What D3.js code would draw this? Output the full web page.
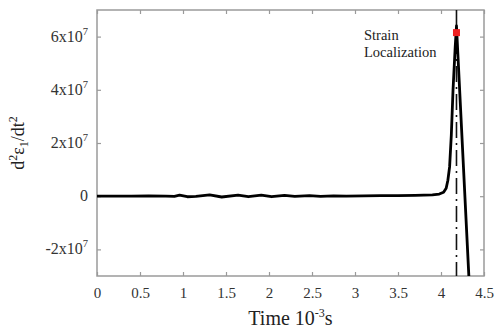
<!DOCTYPE html>
<html>
<head>
<meta charset="utf-8">
<script src="https://cdn.jsdelivr.net/npm/d3@7"></script>
<style>
  html, body { margin: 0; padding: 0; background: #fff; }
  svg { display: block; font-family: "Liberation Serif", "DejaVu Serif", serif; }
</style>
</head>
<body>
<svg id="chart" width="496" height="330"></svg>
<script>
// ---- data (time in 10^-3 s, value in units of 10^7) ----
const times = [0, 0.2, 0.4, 0.6, 0.8, 0.9, 0.96, 1.05, 1.15, 1.31, 1.45, 1.64, 1.76, 1.91, 2.03, 2.18, 2.3, 2.47, 2.6, 2.75, 2.9, 3.1, 3.3, 3.5, 3.7, 3.9, 3.98, 4.03, 4.06, 4.08, 4.1, 4.12, 4.14, 4.165, 4.18, 4.33];
const values = [0, 0, 0, 0.01, 0, -0.01, 0.04, -0.02, -0.01, 0.05, -0.03, 0.04, -0.02, 0.04, -0.02, 0.03, -0.01, 0.02, -0.01, 0.01, 0.0, 0.01, 0.02, 0.02, 0.03, 0.05, 0.08, 0.15, 0.3, 0.6, 1.1, 2.3, 4.0, 5.6, 6.4, -3.4];
const xTicks = [0, 0.5, 1, 1.5, 2, 2.5, 3, 3.5, 4, 4.5];
const xTickLabels = ["0", "0.5", "1", "1.5", "2", "2.5", "3", "3.5", "4", "4.5"];
const yTicks = [-2, 0, 2, 4, 6];
const yTickMantissa = ["-2x10", "0", "2x10", "4x10", "6x10"];
const yTickExponent = ["7", "", "7", "7", "7"];
const localizationTime = [4.18];
const localizationValue = [6.15];
const annotationLines = ["Strain", "Localization"];

const svg = d3.select("#chart");
const mL = 97, mR = 484, mT = 10, mB = 276;
const x = d3.scaleLinear().domain([0, 4.5]).range([mL, mR]);
const y = d3.scaleLinear().domain([-3, 7]).range([mB, mT]);

const axisColor = "#9a9a9a";

svg.append("defs").append("clipPath").attr("id", "clip")
  .append("rect").attr("x", mL).attr("y", mT).attr("width", mR - mL).attr("height", mB - mT);

svg.append("rect").attr("x", mL).attr("y", mT).attr("width", mR - mL).attr("height", mB - mT)
  .attr("fill", "none").attr("stroke", axisColor).attr("stroke-width", 1.5);

const gx = svg.append("g").attr("transform", `translate(0,${mB})`)
  .call(d3.axisBottom(x).tickValues(xTicks).tickSize(-4).tickPadding(11).tickFormat((d, i) => xTickLabels[i]));
const gxTop = svg.append("g").attr("transform", `translate(0,${mT})`)
  .call(d3.axisTop(x).tickValues(xTicks).tickSize(-4).tickFormat(""));
const gy = svg.append("g").attr("transform", `translate(${mL},0)`)
  .call(d3.axisLeft(y).tickValues(yTicks).tickSize(-4).tickFormat(""));
const gyR = svg.append("g").attr("transform", `translate(${mR},0)`)
  .call(d3.axisRight(y).tickValues(yTicks).tickSize(-4).tickFormat(""));
[gx, gxTop, gy, gyR].forEach(g => {
  g.select(".domain").remove();
  g.selectAll(".tick line").attr("stroke", axisColor).attr("stroke-width", 1.2);
});
gx.selectAll(".tick text").attr("font-size", 15).attr("fill", "#333")
  .attr("font-family", "Liberation Serif, serif");

const yl = svg.append("g");
yTicks.forEach((v, i) => {
  const t = yl.append("text").attr("x", 88).attr("y", y(v) + 5)
    .attr("text-anchor", "end").attr("font-size", 16).attr("fill", "#333");
  t.append("tspan").text(yTickMantissa[i]);
  if (yTickExponent[i]) t.append("tspan").attr("dy", -7).attr("font-size", 10.5).text(yTickExponent[i]);
});

const xt = svg.append("text").attr("x", (mL + mR) / 2).attr("y", 325)
  .attr("text-anchor", "middle").attr("font-size", 20).attr("fill", "#222");
xt.append("tspan").text("Time 10");
xt.append("tspan").attr("dy", -8).attr("font-size", 12).text("-3");
xt.append("tspan").attr("dy", 8).text("s");

const ytg = svg.append("text").attr("transform", "translate(24,143) rotate(-90)")
  .attr("text-anchor", "middle").attr("font-size", 18).attr("fill", "#222");
ytg.append("tspan").text("d");
ytg.append("tspan").attr("dy", -7).attr("font-size", 12).text("2");
ytg.append("tspan").attr("dy", 7).text("ε");
ytg.append("tspan").attr("dy", 4).attr("font-size", 12).text("1");
ytg.append("tspan").attr("dy", -4).text("/dt");
ytg.append("tspan").attr("dy", -7).attr("font-size", 12).text("2");

svg.append("line")
  .attr("x1", x(localizationTime[0])).attr("x2", x(localizationTime[0]))
  .attr("y1", mT).attr("y2", mB)
  .attr("stroke", "#111").attr("stroke-width", 1.6)
  .attr("stroke-dasharray", "16,5,2,5");

const pts = times.map((t, i) => [t, values[i]]);
svg.append("path").datum(pts)
  .attr("clip-path", "url(#clip)")
  .attr("fill", "none").attr("stroke", "#000").attr("stroke-width", 2.8)
  .attr("stroke-linejoin", "round")
  .attr("d", d3.line().x(d => x(d[0])).y(d => y(d[1])).curve(d3.curveLinear));

svg.append("rect")
  .attr("x", x(localizationTime[0]) - 3.5).attr("y", y(localizationValue[0]) - 3.5)
  .attr("width", 7).attr("height", 7).attr("fill", "#ee2222");

annotationLines.forEach((s, i) => {
  svg.append("text").attr("x", 364).attr("y", 40 + i * 17)
    .attr("font-size", 14.5).attr("fill", "#222").text(s);
});
</script>
</body>
</html>
